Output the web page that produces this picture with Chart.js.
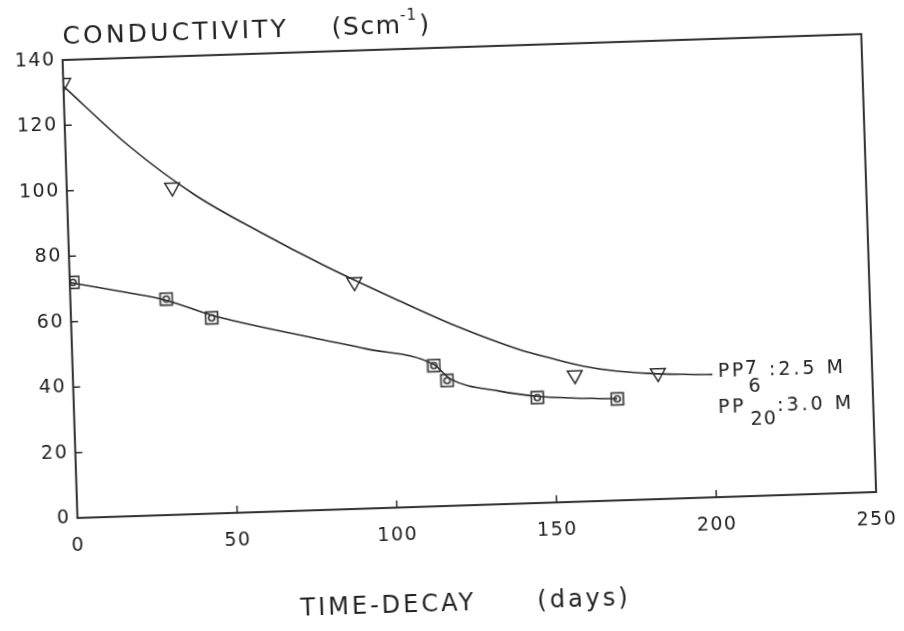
<!DOCTYPE html>
<html>
<head>
<meta charset="utf-8">
<script src="https://cdn.jsdelivr.net/npm/chart.js@4.4.1/dist/chart.umd.min.js"></script>
<style>
html, body { margin:0; padding:0; background:#fff; overflow:hidden; }
/* the scanned figure sits slightly tilted on the page */
#wrap { position:absolute; left:0; top:0; width:904px; height:631px; transform-origin:470.5px 276px; transform:rotate(-1.86deg); }
</style>
</head>
<body>
<div id="wrap"><canvas id="chart" width="904" height="631"></canvas></div>
<script>
var xTicks = [0, 50, 100, 150, 200, 250];
var yTicks = [0, 20, 40, 60, 80, 100, 120, 140];

// PP7 ; 2.5 M  (triangles)
var pp7Days = [0, 33, 89, 157, 183];
var pp7Cond = [133, 100, 69.3, 38.7, 38.5];
// curve drawn through them
var pp7CurveDays = [0, 20, 40, 60, 80, 100, 120, 140, 150, 160, 170, 180, 190, 200];
var pp7CurveCond = [132, 113, 97.5, 85.5, 74.5, 64.5, 55, 47, 44, 41.3, 39.5, 38.5, 37.9, 37.5];

// PP20 ; 3.0 M  (squares)
var pp20Days = [1, 30, 44, 113, 117, 145, 170];
var pp20Cond = [72, 66, 59.8, 43, 38.3, 32.2, 31];
var pp20CurveDays = [0, 18, 30, 44, 75, 92, 113, 118, 133, 146, 170];
var pp20CurveCond = [72, 68.3, 65.6, 60.6, 52.8, 48.8, 43.3, 38.8, 34.6, 32.5, 31];

var ink = '#2e2e2e';
var textInk = '#222222';
var fontFam = '"DejaVu Sans", sans-serif';

function pairs(xs, ys) {
  return xs.map(function(x, i) { return { x: x, y: ys[i] }; });
}

function squareMark() {
  var c = document.createElement('canvas');
  c.width = 15; c.height = 15;
  var g = c.getContext('2d');
  g.strokeStyle = ink; g.lineWidth = 1.6;
  g.strokeRect(1.5, 1.5, 12, 12);
  g.beginPath(); g.arc(7.5, 7.5, 3, 0, Math.PI * 2); g.stroke();
  return c;
}

function put(ctx, s, x, y, size, ls) {
  ctx.font = size + 'px ' + fontFam;
  ctx.letterSpacing = ls + 'px';
  ctx.fillText(s, x, y);
  return ctx.measureText(s).width;
}

var framePlugin = {
  id: 'frame',
  beforeDraw: function(chart) {
    chart.ctx.letterSpacing = '1.5px';
  },
  beforeDatasetsDraw: function(chart) {
    var ctx = chart.ctx, ca = chart.chartArea;
    var xs = chart.scales.x, ys = chart.scales.y;
    ctx.save();
    ctx.strokeStyle = ink;
    ctx.lineWidth = 2;
    ctx.strokeRect(ca.left, ca.top, ca.right - ca.left, ca.bottom - ca.top);
    ctx.lineWidth = 1.5;
    ctx.beginPath();
    xTicks.slice(1, -1).forEach(function(v) {
      var px = xs.getPixelForValue(v);
      ctx.moveTo(px, ca.bottom); ctx.lineTo(px, ca.bottom - 7);
    });
    yTicks.slice(1, -1).forEach(function(v) {
      var py = ys.getPixelForValue(v);
      ctx.moveTo(ca.left, py); ctx.lineTo(ca.left + 7, py);
    });
    ctx.stroke();
    ctx.restore();
  },
  afterDraw: function(chart) {
    var ctx = chart.ctx, ca = chart.chartArea;
    ctx.save();
    ctx.fillStyle = textInk;
    ctx.textBaseline = 'middle';
    ctx.textAlign = 'left';

    // y title
    var ty = ca.bottom - 481;
    put(ctx, 'CONDUCTIVITY', ca.left + 0.6, ty, 25, 3.2);
    var tx = ca.left + 270;
    tx += put(ctx, '(Scm', tx, ty, 25, 1.5);
    tx += put(ctx, '-1', tx - 1, ty - 10, 15, 1);
    put(ctx, ')', tx + 1, ty, 25, 1.5);

    // x title
    put(ctx, 'TIME-DECAY', ca.left + 220, ca.bottom + 99, 24, 3);
    put(ctx, '(days)', ca.left + 457, ca.bottom + 99, 24, 3);

    // series labels
    var ax = ca.left + 645, ay = ca.bottom - 125;
    put(ctx, 'PP', ax, ay, 19, 2.5);
    put(ctx, '7', ax + 27, ay - 2, 19, 2);
    put(ctx, '6', ax + 30, ay + 16, 19, 2);
    put(ctx, ':2.5 M', ax + 51, ay, 19, 3);
    var by = ca.bottom - 89;
    put(ctx, 'PP', ax - 1, by, 19, 2.5);
    put(ctx, '20', ax + 31, by + 13, 19, 1);
    put(ctx, ':3.0 M', ax + 58, by, 19, 3);
    ctx.restore();
  }
};

var ctx = document.getElementById('chart').getContext('2d');
new Chart(ctx, {
  type: 'line',
  data: {
    datasets: [
      { label: 'PP7 curve', data: pairs(pp7CurveDays, pp7CurveCond), borderColor: ink, borderWidth: 1.6, pointRadius: 0, cubicInterpolationMode: 'monotone', fill: false },
      { label: 'PP20 curve', data: pairs(pp20CurveDays, pp20CurveCond), borderColor: ink, borderWidth: 1.6, pointRadius: 0, cubicInterpolationMode: 'monotone', fill: false },
      { label: 'PP7 ; 2.5 M', data: pairs(pp7Days, pp7Cond), showLine: false, pointStyle: 'triangle', rotation: 180, pointRadius: 8.5, pointBorderColor: ink, pointBorderWidth: 1.5, pointBackgroundColor: 'rgba(0,0,0,0)' },
      { label: 'PP20 ; 3.0 M', data: pairs(pp20Days, pp20Cond), showLine: false, pointStyle: squareMark(), pointRadius: 7.5 }
    ]
  },
  options: {
    responsive: false,
    animation: false,
    layout: { padding: { left: 0, right: 32.8, top: 46.9, bottom: 0 } },
    plugins: { legend: { display: false }, tooltip: { enabled: false } },
    scales: {
      x: {
        type: 'linear', min: 0, max: 250,
        afterBuildTicks: function(s) { s.ticks = xTicks.map(function(v) { return { value: v }; }); },
        afterFit: function(s) { s.height = 125.9; },
        grid: { display: false, drawTicks: false },
        border: { display: false },
        ticks: { color: textInk, font: { family: fontFam, size: 19 }, padding: 17, maxRotation: 0 }
      },
      y: {
        type: 'linear', min: 0, max: 140,
        afterBuildTicks: function(s) { s.ticks = yTicks.map(function(v) { return { value: v }; }); },
        afterFit: function(s) { s.width = 69.8; },
        grid: { display: false, drawTicks: false },
        border: { display: false },
        ticks: { color: textInk, font: { family: fontFam, size: 19 }, padding: 7 }
      }
    }
  },
  plugins: [framePlugin]
});
</script>
</body>
</html>
